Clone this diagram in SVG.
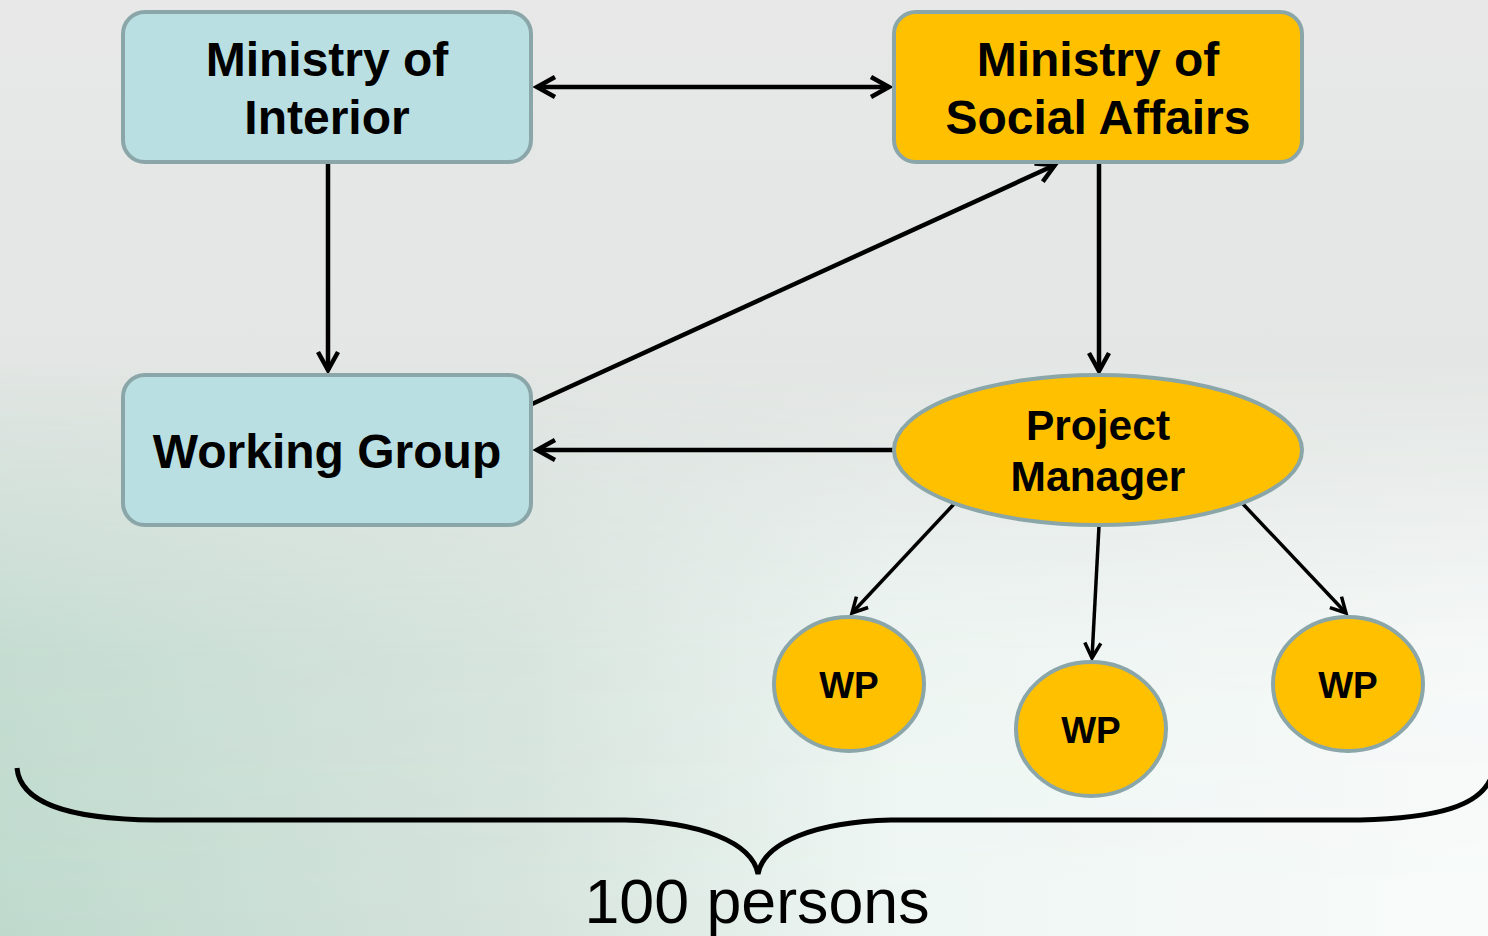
<svg xmlns="http://www.w3.org/2000/svg" width="1488" height="936" viewBox="0 0 1488 936">
  <defs>
    <linearGradient id="bgV" x1="0" y1="0" x2="0" y2="1">
      <stop offset="0" stop-color="#e7e8e7"/>
      <stop offset="0.5" stop-color="#e2e6e4"/>
      <stop offset="1" stop-color="#e6eeeb"/>
    </linearGradient>
    <linearGradient id="bgH" x1="0" y1="0" x2="1" y2="0">
      <stop offset="0" stop-color="#bfdacd"/>
      <stop offset="0.35" stop-color="#d5e3dc"/>
      <stop offset="0.6" stop-color="#eef6f3"/>
      <stop offset="1" stop-color="#f8fbfa"/>
    </linearGradient>
    <linearGradient id="fadeV" x1="0" y1="0" x2="0" y2="1">
      <stop offset="0.38" stop-color="#fff" stop-opacity="0"/>
      <stop offset="0.7" stop-color="#fff" stop-opacity="0.85"/>
      <stop offset="1" stop-color="#fff" stop-opacity="1"/>
    </linearGradient>
    <mask id="fade">
      <rect x="0" y="0" width="1488" height="936" fill="url(#fadeV)"/>
    </mask>
    <marker id="ah" markerUnits="userSpaceOnUse" markerWidth="30" markerHeight="30" refX="22" refY="12" orient="auto-start-reverse" overflow="visible">
      <path d="M4,2 L22,12 L4,22" fill="none" stroke="#000" stroke-width="4.5"/>
    </marker>
    <marker id="ahs" markerUnits="userSpaceOnUse" markerWidth="24" markerHeight="24" refX="18" refY="10" orient="auto" overflow="visible">
      <path d="M3,2 L18,10 L3,18" fill="none" stroke="#000" stroke-width="3.5"/>
    </marker>
    <style>
      .box { stroke: #8aa6a9; stroke-width: 4; }
      .blue { fill: #b9dfe2; }
      .gold { fill: #ffc000; }
      .lbl { font-family: "Liberation Sans", Arial, sans-serif; font-weight: bold; fill: #000; text-anchor: middle; }
      .big { font-size: 48px; }
      .mid { font-size: 42.5px; }
      .sm { font-size: 37px; }
      .con { stroke: #000; stroke-width: 4.5; fill: none; }
      .cons { stroke: #000; stroke-width: 3.5; fill: none; }
    </style>
  </defs>

  <rect x="0" y="0" width="1488" height="936" fill="url(#bgV)"/>
  <rect x="0" y="0" width="1488" height="936" fill="url(#bgH)" mask="url(#fade)"/>

  <g id="connectors">
    <line class="con" x1="537" y1="87" x2="889" y2="87" marker-start="url(#ah)" marker-end="url(#ah)"/>
    <line class="con" x1="328" y1="163" x2="328" y2="370" marker-end="url(#ah)"/>
    <line class="con" x1="532" y1="404" x2="1055" y2="165" marker-end="url(#ah)"/>
    <line class="con" x1="1099" y1="163" x2="1099" y2="371" marker-end="url(#ah)"/>
    <line class="con" x1="894" y1="450" x2="537" y2="450" marker-end="url(#ah)"/>
    <line class="cons" x1="954" y1="504" x2="852" y2="613" marker-end="url(#ahs)"/>
    <line class="cons" x1="1099" y1="526" x2="1092" y2="658" marker-end="url(#ahs)"/>
    <line class="cons" x1="1243" y1="504" x2="1346" y2="613" marker-end="url(#ahs)"/>
  </g>

  <g id="ministry-interior">
    <rect class="box blue" x="123" y="12" width="408" height="150" rx="22"/>
    <text class="lbl big" x="327" y="76">Ministry of</text>
    <text class="lbl big" x="327" y="134">Interior</text>
  </g>

  <g id="ministry-social">
    <rect class="box gold" x="894" y="12" width="408" height="150" rx="22"/>
    <text class="lbl big" x="1098" y="76">Ministry of</text>
    <text class="lbl big" x="1098" y="134">Social Affairs</text>
  </g>

  <g id="working-group">
    <rect class="box blue" x="123" y="375" width="408" height="150" rx="22"/>
    <text class="lbl big" x="327" y="468">Working Group</text>
  </g>

  <g id="project-manager">
    <ellipse class="box gold" cx="1098" cy="450" rx="204" ry="75"/>
    <text class="lbl mid" x="1098" y="440">Project</text>
    <text class="lbl mid" x="1098" y="491">Manager</text>
  </g>

  <g id="wp-left">
    <ellipse class="box gold" cx="849" cy="684" rx="75" ry="67"/>
    <text class="lbl sm" x="849" y="698">WP</text>
  </g>

  <g id="wp-middle">
    <ellipse class="box gold" cx="1091" cy="729" rx="75" ry="67"/>
    <text class="lbl sm" x="1091" y="743">WP</text>
  </g>

  <g id="wp-right">
    <ellipse class="box gold" cx="1348" cy="684" rx="75" ry="67"/>
    <text class="lbl sm" x="1348" y="698">WP</text>
  </g>

  <g id="brace">
    <path d="M17,768 C20,800 60,819 155,820 L625,820 C700,822 752,842 758,874 C764,842 816,822 891,820 L1360,820 C1440,818 1478,805 1490,780" fill="none" stroke="#000" stroke-width="5"/>
    <text x="757" y="923" font-family="'Liberation Sans', Arial, sans-serif" font-size="63" fill="#000" text-anchor="middle" textLength="345" lengthAdjust="spacingAndGlyphs">100 persons</text>
  </g>
</svg>
